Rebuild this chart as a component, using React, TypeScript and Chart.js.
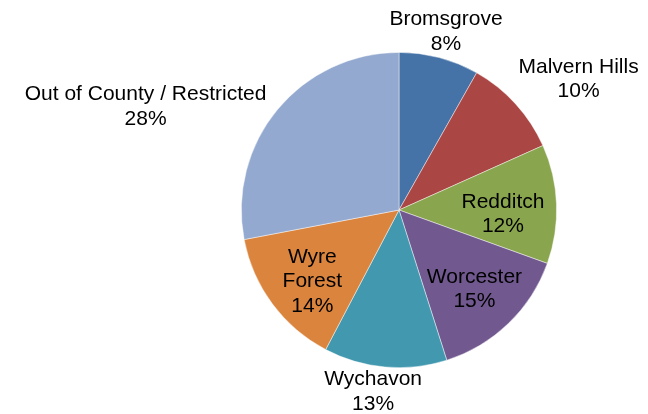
import React, { useEffect, useRef } from "react";
import { Chart, registerables } from "chart.js";

Chart.register(...registerables);

const categories = ["Bromsgrove", "Malvern Hills", "Redditch", "Worcester", "Wychavon", "Wyre Forest", "Out of County / Restricted"];
const values = [8.2, 10.1, 12.2, 14.6, 12.6, 14.3, 28.0];
const labelLines = [["Bromsgrove"], ["Malvern Hills"], ["Redditch"], ["Worcester"], ["Wychavon"], ["Wyre", "Forest"], ["Out of County / Restricted"]];
const colors = ["#4572A7", "#AA4643", "#89A54E", "#71588F", "#4198AF", "#DB843D", "#93A9CF"];
// label placement: radial factor (of outer radius) and pixel nudges
const labelRadial = [1.17, 1.42, 0.66, 0.69, 1.15, 0.7, 1.0];
const labelNudge: [number, number][] = [[0, 0], [14, 20], [0, 8], [0, 1], [-10, 1], [2, 6], [-132, -3]];

const labelPlugin = {
  id: "pieLabels",
  afterDatasetsDraw(chart: any) {
    const ctx = chart.ctx;
    const meta = chart.getDatasetMeta(0);
    const data = chart.data.datasets[0].data as number[];
    const total = data.reduce((a, b) => a + b, 0);
    ctx.save();
    ctx.fillStyle = "#000";
    ctx.font = "21px 'Liberation Sans', Arial, sans-serif";
    ctx.textAlign = "center";
    ctx.textBaseline = "middle";
    const lh = 24.5;
    meta.data.forEach((arc: any, i: number) => {
      const p = arc.getProps(["x", "y", "startAngle", "endAngle", "outerRadius"], true);
      const mid = (p.startAngle + p.endAngle) / 2;
      const r = p.outerRadius * labelRadial[i];
      const cx = p.x + Math.cos(mid) * r + labelNudge[i][0];
      const cy = p.y + Math.sin(mid) * r + labelNudge[i][1];
      const lines = [...labelLines[i], Math.round((data[i] / total) * 100) + "%"];
      const top = cy - ((lines.length - 1) * lh) / 2;
      lines.forEach((t, k) => ctx.fillText(t, cx, top + k * lh));
    });
    ctx.restore();
  },
};

export default function App() {
  const ref = useRef<HTMLCanvasElement>(null);
  useEffect(() => {
    document.body.style.margin = "0";
    const chart = new Chart(ref.current!, {
      type: "pie",
      data: {
        labels: categories,
        datasets: [
          {
            data: values,
            backgroundColor: colors,
            borderColor: "rgba(255,255,255,0.6)",
            borderWidth: 0.75,
          },
        ],
      },
      options: {
        responsive: false,
        animation: false,
        layout: { padding: { left: 241, right: 91, top: 52, bottom: 46 } },
        plugins: { legend: { display: false }, tooltip: { enabled: false } },
      },
      plugins: [labelPlugin],
    });
    return () => chart.destroy();
  }, []);
  return (
    <div style={{ width: 648, height: 414, background: "#fff" }}>
      <canvas ref={ref} width={648} height={414} />
    </div>
  );
}
